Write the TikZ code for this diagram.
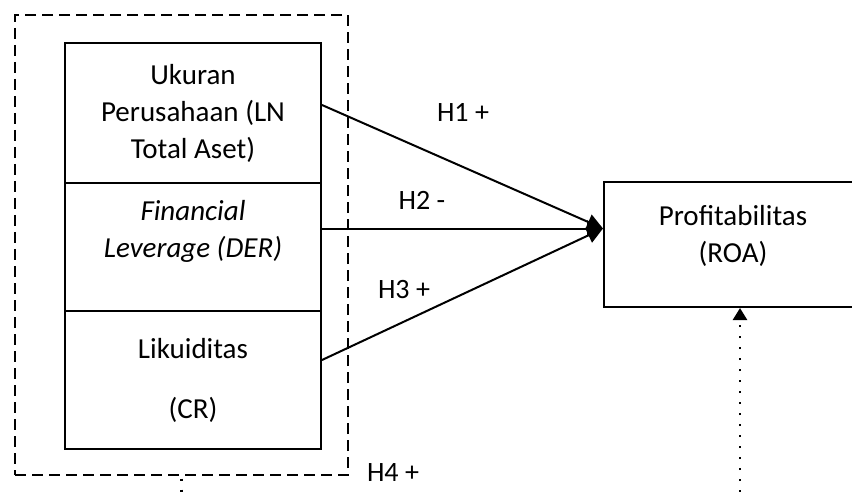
\documentclass[tikz,border=0pt]{standalone}
\usepackage{fontspec}
\setmainfont{Carlito}
\usetikzlibrary{arrows.meta,positioning}
\tikzset{
  varbox/.style={draw,line width=1pt,minimum width=128pt,align=center,inner sep=0pt,
    font=\fontsize{14.5}{18.5}\selectfont},
  groupbox/.style={draw,dashed,dash pattern=on 5.5pt off 3pt,line width=0.7pt,
    minimum width=166.5pt,minimum height=230pt,inner sep=0pt},
  hyp/.style={-{Triangle[length=8pt,width=8pt]},line width=1pt},
  modarrow/.style={-{Triangle[length=6pt,width=7pt]},line width=1.2pt,
    dash pattern=on 1.2pt off 4.3pt},
  hlabel/.style={font=\fontsize{14}{17}\selectfont,inner sep=1pt}
}
\begin{document}
\begin{tikzpicture}[x=0.5pt,y=-0.5pt]
  \clip (0,0) rectangle (852,492);
  % independent variables
  \node (indep) at (181.5,245) [groupbox] {};
  \node (ukuran) at (193,113) [varbox,minimum height=70pt] {Ukuran\\Perusahaan (LN\\Total Aset)};
  \node (leverage) [varbox,minimum height=64pt,below=-1pt of ukuran] {\itshape Financial\\\itshape Leverage (DER)\\\mbox{}};
  \node (likuiditas) [varbox,minimum height=69pt,below=-1pt of leverage] {Likuiditas\\[11.5pt](CR)};
  % dependent variable
  \node (roa) at (733,244.5) [varbox,minimum width=129pt,minimum height=62.5pt] {Profitabilitas\\(ROA)\\[-8pt]\mbox{}};
  \coordinate (tip) at ([yshift=8pt]roa.west);
  \draw [hyp] ([yshift=4pt]ukuran.east) -- (tip);
  \draw [hyp] (leverage.east |- tip) -- (tip);
  \draw [hyp] ([yshift=10pt]likuiditas.east) -- (tip);
  \node (h1) at (463,112) [hlabel] {H1 +};
  \node (h2) at (422,200) [hlabel] {H2 -};
  \node (h3) at (404,290) [hlabel] {H3 +};
  \node (h4) at (393,473) [hlabel] {H4 +};
  % moderating paths
  \coordinate (m1) at (180,492);
  \coordinate (m2) at (740,492);
  \draw [line width=1.2pt,dash pattern=on 1.2pt off 4.3pt] ([yshift=-1.5pt]indep.south) -- (indep.south |- m1);
  \draw [modarrow] (m2) -- (m2 |- roa.south);
\end{tikzpicture}
\end{document}
